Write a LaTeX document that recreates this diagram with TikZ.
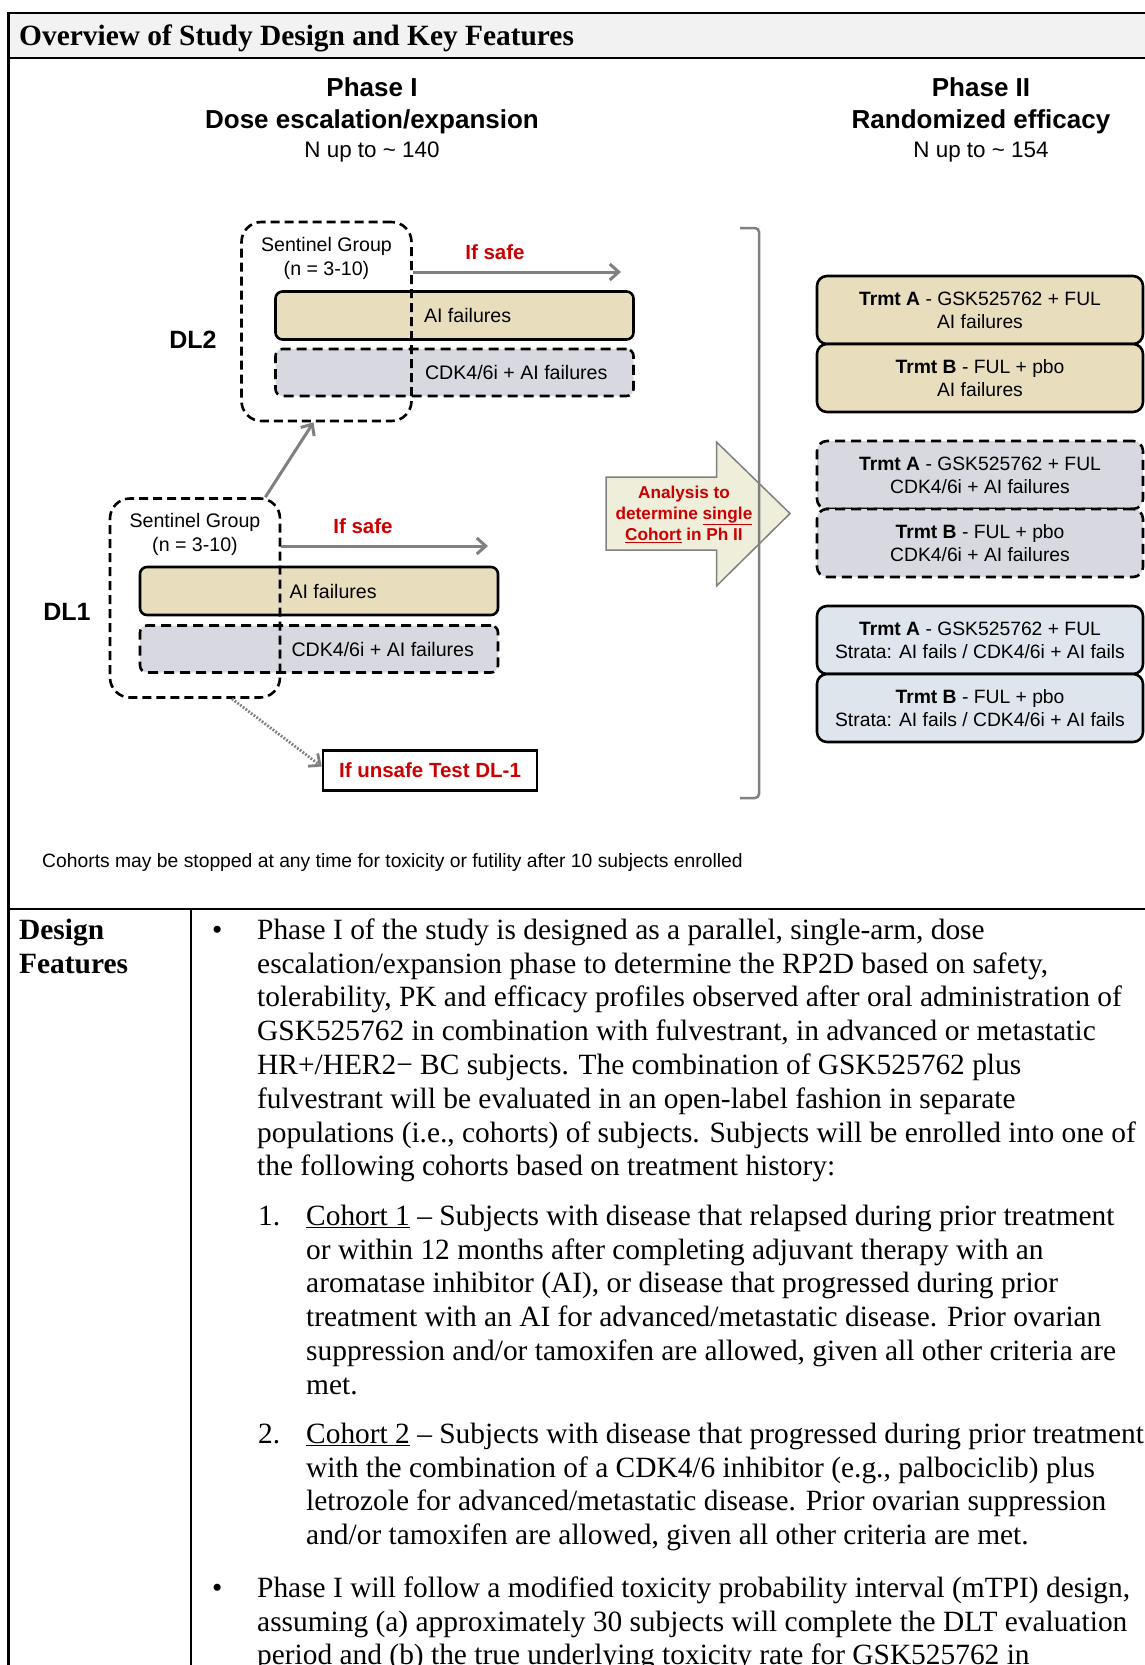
\documentclass[tikz,border=0pt]{standalone}
\usepackage{fontspec}
\setmainfont{Liberation Serif}
\newfontfamily\arialf{Liberation Sans}
\usetikzlibrary{positioning,arrows,arrows.meta,calc}

\definecolor{tanfill}{RGB}{232,222,190}
\definecolor{cdkfill}{RGB}{216,216,225}
\definecolor{stratfill}{RGB}{222,229,237}
\definecolor{headgrey}{RGB}{242,242,242}
\definecolor{safered}{RGB}{204,0,0}
\definecolor{arrowgrey}{RGB}{128,128,128}
\definecolor{bigarrowfill}{RGB}{238,238,218}

\newcommand{\sansfs}[2]{\arialf\fontsize{#1}{#2}\selectfont}
\newcommand{\serfs}[2]{\fontsize{#1}{#2}\selectfont}

\tikzset{
  >={Straight Barb[length=9pt,width=16pt]},
  rule/.style={line width=2.2pt},
  aibox/.style={draw, line width=2.6pt, rounded corners=7pt, fill=tanfill,
    minimum width=358pt, minimum height=48pt, inner sep=0pt},
  cdkbox/.style={draw, line width=2.6pt, dash pattern=on 10pt off 6pt,
    rounded corners=7pt, fill=cdkfill, minimum width=358pt, minimum height=47pt, inner sep=0pt},
  sentbox/.style={draw, line width=2.6pt, dash pattern=on 9pt off 5pt,
    rounded corners=20pt, minimum width=170pt, minimum height=199pt, inner sep=0pt},
  senttext/.style={anchor=north, inner sep=0pt, align=center, font=\sansfs{19.6}{24}},
  boxtext/.style={anchor=west, inner sep=0pt, font=\sansfs{19.6}{24}},
  safetext/.style={inner sep=0pt, text=safered, font=\sansfs{20.5}{24}\bfseries},
  safearrow/.style={->, draw=arrowgrey, line width=3pt},
  unsafearrow/.style={->, draw=arrowgrey, line width=2.8pt, dash pattern=on 1.8pt off 1.6pt},
  dllabel/.style={inner sep=0pt, font=\sansfs{25}{28}\bfseries},
  armbox/.style={draw, line width=2.6pt, rounded corners=10pt, minimum width=326pt,
    minimum height=68pt, inner sep=0pt, align=center, font=\sansfs{19.3}{23}},
  phasehead/.style={anchor=north, inner sep=0pt, align=center, font=\sansfs{26}{32}},
  bodytext/.style={anchor=north west, inner sep=0pt, align=left, font=\serfs{29.4}{33.8}}
}

\begin{document}
\begin{tikzpicture}[x=1pt,y=-1pt]
\useasboundingbox (0,0) rectangle (1145,1665);
\path[clip] (0,0) rectangle (1145,1665);

% table frame
\fill[headgrey] (8.5,13) rectangle (1150,58);
\draw[rule] (1150,13) -- (8.5,13) -- (8.5,1670);
\draw[rule] (8.5,58) -- (1150,58);
\draw[rule] (8.5,909) -- (1150,909);
\draw[rule] (191,909) -- (191,1670);
\node[anchor=base west, inner sep=0pt, font=\serfs{29.4}{34}\bfseries] (title) at (19,45)
  {Overview of Study Design and Key Features};

% phase headings
\node[phasehead] (ph1) at (372,77) {\textbf{Phase I}\\\textbf{Dose escalation/expansion}\\[-3pt]{\sansfs{22.4}{27}N up to \textasciitilde{} 140}};
\node[phasehead] (ph2) at (981,77) {\textbf{Phase II}\\\textbf{Randomized efficacy}\\[-3pt]{\sansfs{22.4}{27}N up to \textasciitilde{} 154}};

% dose level 2
\node[aibox] (ai2) at (454.5,315.5) {};
\node[cdkbox] (cdk2) at (454.5,372.5) {};
\node[sentbox] (sen2) at (326.5,321.5) {};
\node[senttext] (st2) at ([yshift=-16pt]sen2.north) {Sentinel Group\\(n = 3-10)};
\node[boxtext] (at2) at ([xshift=11pt]sen2.east |- ai2) {AI failures};
\node[boxtext] (ct2) at ([xshift=12pt]sen2.east |- cdk2) {CDK4/6i + AI failures};
\node[dllabel] (dl2) at (193,340) {DL2};
\coordinate (go2) at (621,272);
\draw[safearrow] (sen2.east |- go2) -- (go2);
\node[safetext] (safe2) at (495,252) {If safe};

% dose level 1
\node[aibox] (ai1) at (319,591) {};
\node[cdkbox] (cdk1) at (319,649) {};
\node[sentbox] (sen1) at (195,598) {};
\node[senttext] (st1) at ([yshift=-16pt]sen1.north) {Sentinel Group\\(n = 3-10)};
\node[boxtext] (at1) at ([xshift=8pt]sen1.east |- ai1) {AI failures};
\node[boxtext] (ct1) at ([xshift=10pt]sen1.east |- cdk1) {CDK4/6i + AI failures};
\node[dllabel] (dl1) at (67,612) {DL1};
\coordinate (go1) at (488,546);
\draw[safearrow] (sen1.east |- go1) -- (go1);
\node[safetext] (safe1) at (363,526) {If safe};

\draw[safearrow] ([xshift=-16pt]sen1.north east) -- ([xshift=-13pt]sen2.south);

\node[draw, line width=2.5pt, minimum width=214pt, minimum height=40pt, inner sep=0pt,
  text=safered, font=\sansfs{20.5}{24}\bfseries] (unsafe) at (430,770.5) {If unsafe Test DL-1};
\draw[unsafearrow] ([xshift=37pt]sen1.south) -- ([yshift=4pt]unsafe.west);

% analysis arrow and bracket
\draw[draw=arrowgrey, line width=1.5pt, fill=bigarrowfill]
  (606,477) -- (716.5,477) -- (716.5,442) -- (790,513.5) -- (716.5,586) -- (716.5,550) -- (606,550) -- cycle;
\node[inner sep=0pt, align=center, text=safered, font=\sansfs{17.2}{21}\bfseries] (ana) at (684,514)
  {Analysis to\\determine \underline{single}\\\underline{Cohort} in Ph II};
\draw[draw=arrowgrey, line width=2.5pt, rounded corners=4pt] (740,228) -- (759,228) -- (759,798) -- (740,798);

% phase II arms
\node[armbox, fill=tanfill] (a1) at (980,310) {\textbf{Trmt A} - GSK525762 + FUL\\AI failures};
\node[armbox, fill=tanfill] (b1) at (980,378) {\textbf{Trmt B} - FUL + pbo\\AI failures};
\node[armbox, fill=cdkfill, dash pattern=on 10pt off 6pt] (a2) at (980,475) {\textbf{Trmt A} - GSK525762 + FUL\\CDK4/6i + AI failures};
\node[armbox, fill=cdkfill, dash pattern=on 10pt off 6pt] (b2) at (980,543) {\textbf{Trmt B} - FUL + pbo\\CDK4/6i + AI failures};
\node[armbox, fill=stratfill] (a3) at (980,640) {\textbf{Trmt A} - GSK525762 + FUL\\Strata: AI fails / CDK4/6i + AI fails};
\node[armbox, fill=stratfill] (b3) at (980,708) {\textbf{Trmt B} - FUL + pbo\\Strata: AI fails / CDK4/6i + AI fails};

\node[anchor=west, inner sep=0pt, font=\sansfs{19.3}{22}] (note) at (42,862)
  {Cohorts may be stopped at any time for toxicity or futility after 10 subjects enrolled};

% design features
\node[bodytext, font=\serfs{29.4}{33.8}\bfseries] (feat) at (19,915.5) {\strut Design\\Features};
\node[bodytext] (bul1) at (212,915.5) {\strut\textbullet};
\node[bodytext] (par1) at (257,915.5) {\strut Phase I of the study is designed as a parallel, single-arm, dose\\
escalation/expansion phase to determine the RP2D based on safety,\\
tolerability, PK and efficacy profiles observed after oral administration of\\
GSK525762 in combination with fulvestrant, in advanced or metastatic\\
HR+/HER2− BC subjects. The combination of GSK525762 plus\\
fulvestrant will be evaluated in an open-label fashion in separate\\
populations (i.e., cohorts) of subjects. Subjects will be enrolled into one of\\
the following cohorts based on treatment history:};
\node[bodytext] (num1) at (258,1201.5) {\strut 1.};
\node[bodytext] (item1) at (306,1201.5) {\strut\underline{Cohort 1} – Subjects with disease that relapsed during prior treatment\\
or within 12 months after completing adjuvant therapy with an\\
aromatase inhibitor (AI), or disease that progressed during prior\\
treatment with an AI for advanced/metastatic disease. Prior ovarian\\
suppression and/or tamoxifen are allowed, given all other criteria are\\
met.};
\node[bodytext] (num2) at (258,1419.5) {\strut 2.};
\node[bodytext] (item2) at (306,1419.5) {\strut\underline{Cohort 2} – Subjects with disease that progressed during prior treatment\\
with the combination of a CDK4/6 inhibitor (e.g., palbociclib) plus\\
letrozole for advanced/metastatic disease. Prior ovarian suppression\\
and/or tamoxifen are allowed, given all other criteria are met.};
\node[bodytext] (bul2) at (212,1573.5) {\strut\textbullet};
\node[bodytext] (par2) at (257,1573.5) {\strut Phase I will follow a modified toxicity probability interval (mTPI) design,\\
assuming (a) approximately 30 subjects will complete the DLT evaluation\\
period and (b) the true underlying toxicity rate for GSK525762 in};
\end{tikzpicture}
\end{document}
